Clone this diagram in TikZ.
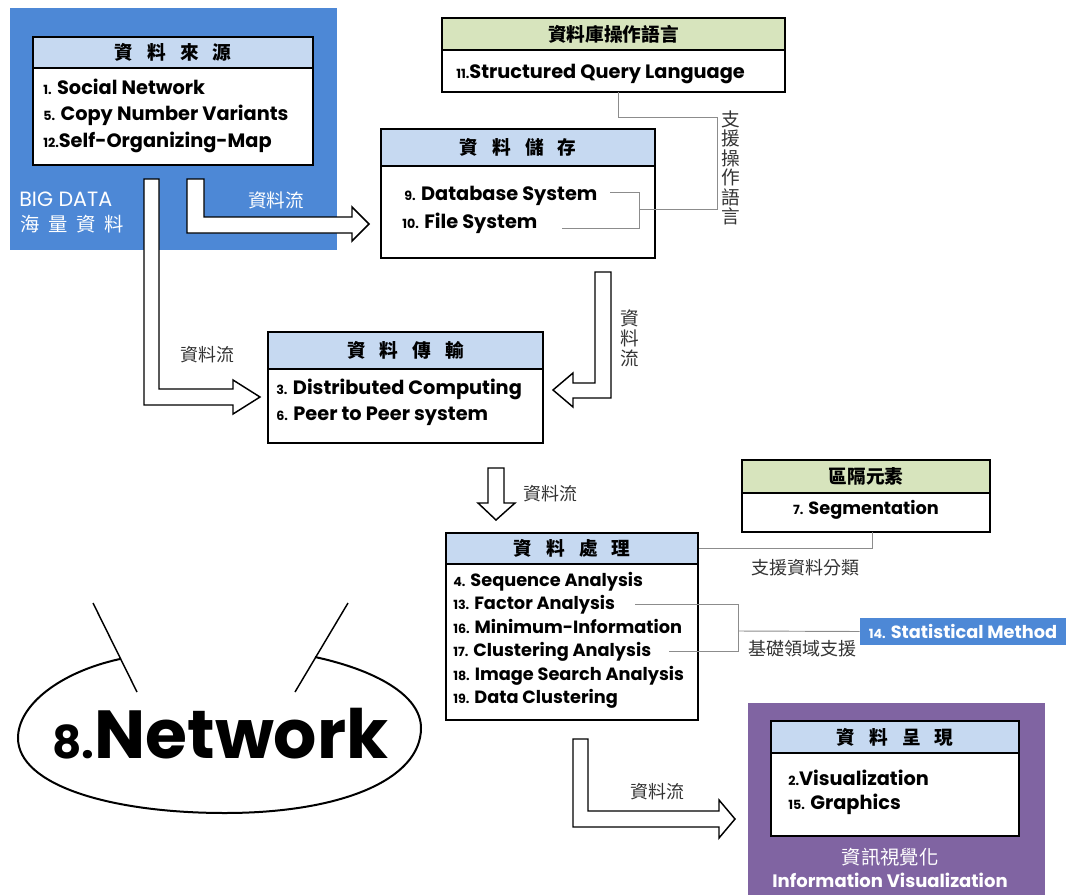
\documentclass[tikz,border=0pt]{standalone}
\usepackage{fontspec}
\setmainfont{Poppins}
\newfontfamily\cjk{Noto Sans CJK TC}
\usetikzlibrary{fit}
\definecolor{bigblue}{HTML}{4D88D6}
\definecolor{hdrblue}{HTML}{C6D9F1}
\definecolor{hdrgreen}{HTML}{D7E4BD}
\definecolor{purp}{HTML}{8064A2}
\definecolor{linegray}{HTML}{8C8C8C}
\newcommand\nm[1]{{\fontsize{9.5}{10}\selectfont #1}}
\newcommand\hs{\hspace{0.75em}}
\tikzset{
  box/.style={draw=black, line width=1.3pt, fill=white, inner sep=0pt},
  hdr/.style={box, fill=hdrblue},
  ghdr/.style={box, fill=hdrgreen},
  item/.style={anchor=base west, inner sep=0pt, font=\fontsize{14.5}{16}\selectfont\bfseries},
  sitem/.style={anchor=base west, inner sep=0pt, font=\fontsize{13.3}{15}\selectfont\bfseries},
  htext/.style={font=\cjk\bfseries\fontsize{14}{16}\selectfont, inner sep=0pt},
  lbl/.style={font=\cjk\fontsize{13.5}{15}\selectfont, inner sep=0pt, text=black!80},
  hollow/.style={draw=black, line width=1.1pt, fill=white, line join=miter},
  gline/.style={draw=linegray, line width=0.7pt},
}
\begin{document}
\begin{tikzpicture}[x=0.75pt,y=-0.75pt]
\useasboundingbox (0,0) rectangle (1066,895);

% ---------- BIG DATA panel ----------
\fill[bigblue] (10,8) rectangle (337,250);
\node[box, fit={(33,37)(313,165)}] (src) {};
\node[hdr, fit={(33,37)(313,68)}] (srch) {};
\node[htext] (srct) at (srch.center) {資\hs 料\hs 來\hs 源};
\node[item] (s1) at (43,95) {\nm{1.} Social Network};
\node[item] (s2) at (43,121) {\nm{5.} Copy Number Variants};
\node[item] (s3) at (43,147) {\nm{12.}Self-Organizing-Map};
\node[anchor=base west, inner sep=0pt, text=white, font=\fontsize{15.5}{17}\selectfont] (bd1) at (19,206) {BIG DATA};
\node[anchor=west, inner sep=0pt, text=white, font=\cjk\fontsize{14.5}{16}\selectfont] (bd2) at (20,224) {海\hspace{0.45em}量\hspace{0.45em}資\hspace{0.45em}料};
\node[text=white, font=\cjk\fontsize{14}{16}\selectfont, inner sep=0pt] (lf1) at (276,200) {資料流};

% ---------- SQL ----------
\node[box, fit={(442,18)(785,92)}] (sql) {};
\node[ghdr, fit={(442,18)(785,50)}] (sqlh) {};
\node[htext] (sqlt) at (sqlh.center) {資料庫操作語言};
\node[item] (q1) at (456,79) {\nm{11.}Structured Query Language};

% ---------- Storage ----------
\node[box, fit={(381,129)(655,258)}] (sto) {};
\node[hdr, fit={(381,129)(655,166)}] (stoh) {};
\node[htext] (stot) at (stoh.center) {資\hs 料\hs 儲\hs 存};
\node[item] (d1) at (404,200) {\nm{9.} Database\ System};
\node[item] (d2) at (402,228) {\nm{10.} File System};
\coordinate (dbend) at (610,192);
\coordinate (fsend) at (562,228);
\coordinate (brk) at (639,209);
\coordinate (sqlb) at (618,92);
\draw[gline] (dbend) -- (639,192) -- (639,228) -- (fsend);
\draw[gline] (sqlb) -- (618,117) -- (717,117) -- (717,209) -- (brk);
\node[lbl, align=center, font=\cjk\fontsize{14}{14.6}\selectfont] (sup1) at (731,168) {支\\援\\操\\作\\語\\言};

% ---------- Transfer ----------
\node[box, fit={(268,332)(543,443)}] (tra) {};
\node[hdr, fit={(268,332)(543,369)}] (trah) {};
\node[htext] (trat) at (trah.center) {資\hs 料\hs 傳\hs 輸};
\node[item] (t1) at (276,394) {\nm{3.} Distributed Computing};
\node[item] (t2) at (276,420) {\nm{6.} Peer to Peer system};
\node[lbl] (lf2) at (207,355) {資料流};
\node[lbl, align=center, font=\cjk\fontsize{14}{15}\selectfont] (lf3) at (630,338) {資\\料\\流};

% ---------- hollow arrows ----------
% src -> transfer
\draw[hollow] (144,179) -- (144,405) -- (233,405) -- (233,414) -- (260,397) -- (233,380) -- (233,389) -- (159,389) -- (159,179) -- cycle;
% src -> storage
\draw[hollow] (187,179) -- (187,233) -- (352,233) -- (352,241) -- (369,224) -- (352,207) -- (352,217) -- (204,217) -- (204,179) -- cycle;
% storage -> transfer
\draw[hollow] (595,272) -- (611,272) -- (611,398) -- (573,398) -- (573,407) -- (553,390) -- (573,373) -- (573,383) -- (595,383) -- cycle;
% transfer -> processing
\draw[hollow] (488,468) -- (504,468) -- (504,503) -- (515,503) -- (496,520) -- (478,503) -- (488,503) -- cycle;
\node[lbl] (lf4) at (550,494) {資料流};
% processing -> visualization
\draw[hollow] (573,739) -- (588,739) -- (588,811) -- (719,811) -- (719,800) -- (735,819) -- (719,838) -- (719,827) -- (573,827) -- cycle;
\node[lbl] (lf5) at (657,792) {資料流};

% ---------- Segmentation ----------
\node[box, fit={(742,460)(990,532)}] (seg) {};
\node[ghdr, fit={(742,460)(990,493)}] (segh) {};
\node[htext] (segt) at (segh.center) {區隔元素};
\node[sitem, anchor=base] (g1) at (866,514) {\nm{7.} Segmentation};

% ---------- Processing ----------
\node[box, fit={(446,533)(698,720)}] (pro) {};
\node[hdr, fit={(446,533)(698,564)}] (proh) {};
\node[htext] (prot) at (proh.center) {資\hs 料\hs 處\hs 理};
\node[sitem] (p1) at (453,586) {\nm{4.} Sequence Analysis};
\node[sitem] (p2) at (453,609) {\nm{13.} Factor Analysis};
\node[sitem] (p3) at (453,633) {\nm{16.} Minimum-Information};
\node[sitem] (p4) at (453,656) {\nm{17.} Clustering Analysis};
\node[sitem] (p5) at (453,680) {\nm{18.} Image Search Analysis};
\node[sitem] (p6) at (453,703) {\nm{19.} Data Clustering};
\coordinate (segb) at (872,532);
\draw[gline] (proh.east) -- (872,548.5) -- (segb);
\node[lbl] (sup2) at (805,568) {支援資料分類};

% ---------- Statistical method ----------
\node[fill=bigblue, fit={(860,618)(1066,645)}, inner sep=0pt] (sta) {};
\node[text=white, font=\fontsize{13.3}{15}\selectfont\bfseries, inner sep=0pt] (stat) at (sta.center) {\nm{14.} Statistical Method};
\coordinate (faend) at (635,604);
\coordinate (clend) at (669,651);
\coordinate (mid) at (738,631);
\draw[gline] (faend) -- (738,604) -- (738,651) -- (clend);
\draw[gline] (mid) -- (sta.west);
\node[lbl] (sup3) at (802,649) {基礎領域支援};

% ---------- Visualization ----------
\fill[purp] (748,703) rectangle (1045,895);
\node[box, fit={(771,721)(1019,836)}] (vis) {};
\node[hdr, fit={(771,721)(1019,753)}] (vish) {};
\node[htext] (vist) at (vish.center) {資\hs 料\hs 呈\hs 現};
\node[item] (v1) at (788,785) {\nm{2.}Visualization};
\node[item] (v2) at (788,809) {\nm{15.} Graphics};
\node[text=white, font=\cjk\fontsize{14.5}{16}\selectfont, inner sep=0pt] (iv1) at (890,857) {資訊視覺化};
\node[text=white, font=\fontsize{13.5}{15}\selectfont\bfseries, inner sep=0pt] (iv2) at (890,880) {Information Visualization};

% ---------- Network ----------
\draw[line width=1.5pt] (120,659) .. controls (60,672) and (18,705) .. (18,738)
  .. controls (18,785) and (110,813) .. (225,813)
  .. controls (340,813) and (421,780) .. (421,728)
  .. controls (421,695) and (375,670) .. (315,657);
\draw[line width=1.1pt] (93,603) -- (137,692);
\draw[line width=1.1pt] (348,603) -- (295,692);
\node[anchor=base west, inner sep=0pt, font=\bfseries] (net) at (52,758) {{\fontsize{34}{34}\selectfont 8.}{\fontsize{51}{51}\selectfont Network}};
\end{tikzpicture}
\end{document}
